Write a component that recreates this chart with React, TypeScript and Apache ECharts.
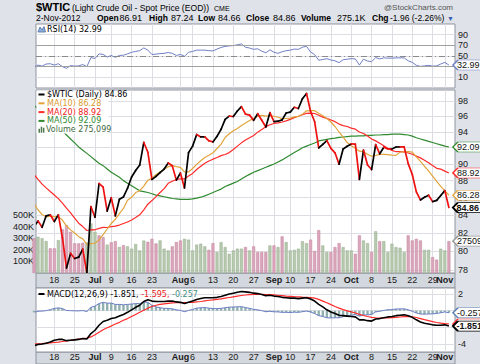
import React, { useEffect, useRef } from 'react';
import * as echarts from 'echarts';

const dates = [
  '06-11','06-12','06-13','06-14','06-15','06-18','06-19','06-20','06-21','06-22','06-25','06-26','06-27','06-28','06-29',
  '07-02','07-03','07-05','07-06','07-09','07-10','07-11','07-12','07-13','07-16','07-17','07-18','07-19','07-20','07-23','07-24','07-25','07-26','07-27','07-30','07-31',
  '08-01','08-02','08-03','08-06','08-07','08-08','08-09','08-10','08-13','08-14','08-15','08-16','08-17','08-20','08-21','08-22','08-23','08-24','08-27','08-28','08-29','08-30','08-31',
  '09-04','09-05','09-06','09-07','09-10','09-11','09-12','09-13','09-14','09-17','09-18','09-19','09-20','09-21','09-24','09-25','09-26','09-27','09-28',
  '10-01','10-02','10-03','10-04','10-05','10-08','10-09','10-10','10-11','10-12','10-15','10-16','10-17','10-18','10-19','10-22','10-23','10-24','10-25','10-26','10-29','10-30','10-31',
  '11-01','11-02',
];

const xTickDates = ['06-18','06-25','07-02','07-09','07-16','07-23','08-01','08-06','08-13','08-20','08-27','09-04','09-10','09-17','09-24','10-01','10-08','10-15','10-22','10-29','11-01'];
const xTickLabels = ['18','25','Jul','9','16','23','Aug','6','13','20','27','Sep','10','17','24','Oct','8','15','22','29','Nov'];

const close = [
  82.70, 83.32, 82.62, 83.91, 84.03, 83.27, 84.03, 81.45, 78.20, 79.76, 79.21, 79.36, 80.21, 77.69, 84.96,
  83.75, 87.66, 87.22, 84.45, 85.99, 83.91, 85.81, 86.08, 87.10, 88.43, 89.22, 89.87, 92.66, 91.44, 88.14, 88.50, 88.97, 89.39, 90.13, 89.78, 88.06,
  88.91, 87.13, 91.40, 92.20, 93.67, 93.35, 93.36, 92.87, 92.73, 93.43, 94.33, 95.60, 96.01, 95.97, 96.68, 97.26, 96.27, 96.15, 95.47, 96.33, 95.49, 94.62, 96.47,
  95.30, 95.36, 95.53, 96.42, 96.54, 97.17, 97.01, 98.31, 99.00, 96.62, 95.29, 91.98, 92.42, 92.89, 91.93, 91.37, 89.98, 91.85, 92.19,
  92.48, 92.44, 88.14, 91.71, 89.88, 89.33, 92.39, 91.25, 92.07, 91.86, 91.85, 92.09, 92.12, 92.10, 90.05, 88.73, 86.67, 85.73, 86.05, 86.28, 85.54, 85.68, 86.24,
  86.82, 84.86,
];

const ma10 = [
  85.33, 84.58, 84.06, 83.80, 83.88, 83.81, 83.78, 83.43, 82.76, 82.33, 81.98, 81.58, 81.34, 80.72, 80.81,
  80.86, 81.23, 81.80, 82.43, 83.05, 83.52, 84.17, 84.75, 85.69, 86.04, 86.59, 86.81, 87.35, 88.05, 88.27, 88.73, 89.04, 89.37, 89.68, 89.81, 89.69,
  89.60, 89.05, 89.04, 89.45, 89.96, 90.40, 90.80, 91.07, 91.37, 91.91, 92.45, 93.29, 93.76, 94.13, 94.43, 94.82, 95.12, 95.44, 95.72, 96.01, 96.12, 96.03, 96.07,
  96.00, 95.87, 95.70, 95.71, 95.75, 95.92, 95.99, 96.27, 96.71, 96.73, 96.73, 96.39, 96.08, 95.72, 95.26, 94.68, 93.98, 93.33, 92.65,
  92.24, 91.95, 91.57, 91.50, 91.20, 90.94, 91.04, 91.17, 91.19, 91.16, 91.09, 91.06, 91.46, 91.49, 91.51, 91.45, 90.88, 90.33, 89.73, 89.17, 88.54, 87.90, 87.31,
  86.78, 86.28,
];

const ma20 = [
  88.73, 88.15, 87.58, 87.14, 86.71, 86.30, 85.88, 85.37, 84.78, 84.24, 83.65, 83.08, 82.70, 82.26, 82.35,
  82.34, 82.50, 82.61, 82.60, 82.69, 82.75, 82.87, 83.05, 83.21, 83.43, 83.72, 84.02, 84.58, 85.24, 85.66, 86.12, 86.60, 87.06, 87.68, 87.93, 88.14,
  88.20, 88.20, 88.55, 88.86, 89.34, 89.72, 90.09, 90.37, 90.59, 90.80, 91.02, 91.17, 91.40, 91.79, 92.20, 92.61, 92.96, 93.26, 93.54, 93.96, 94.29, 94.66, 94.91,
  95.07, 95.15, 95.26, 95.41, 95.60, 95.82, 96.00, 96.20, 96.37, 96.40, 96.36, 96.13, 95.89, 95.72, 95.51, 95.30, 94.99, 94.80, 94.68,
  94.48, 94.34, 93.98, 93.79, 93.46, 93.10, 92.86, 92.57, 92.26, 91.90, 91.67, 91.51, 91.51, 91.50, 91.35, 91.19, 90.96, 90.75, 90.46, 90.16, 89.81, 89.48, 89.38,
  89.14, 88.92,
];

const ma50 = [
  97.4, 97.0, 96.5, 96.0, 95.5, 95.0, 94.6, 94.1, 93.6, 93.1, 92.6, 92.1, 91.7, 91.3, 90.9,
  90.5, 90.1, 89.8, 89.4, 89.0, 88.7, 88.4, 88.0, 87.7, 87.4, 87.1, 86.8, 86.7, 86.6, 86.45, 86.3, 86.2, 86.1, 86.0, 85.9, 85.85,
  85.8, 85.8, 85.8, 85.85, 85.95, 86.05, 86.2, 86.4, 86.6, 86.8, 87.0, 87.3, 87.5, 87.7, 87.9, 88.2, 88.5, 88.75, 89.0, 89.2, 89.4, 89.6, 89.8,
  90.0, 90.25, 90.5, 90.8, 91.1, 91.4, 91.7, 92.0, 92.2, 92.4, 92.6, 92.85, 92.95, 93.05, 93.15, 93.2, 93.3, 93.35, 93.4,
  93.45, 93.45, 93.5, 93.5, 93.55, 93.55, 93.6, 93.6, 93.65, 93.65, 93.7, 93.7, 93.7, 93.65, 93.6, 93.45, 93.25, 93.1, 92.95, 92.8, 92.65, 92.5, 92.35,
  92.2, 92.09,
];

// volume in thousands of shares
const volumeK = [
  300, 313, 300, 276, 213, 213, 284, 377, 414, 356, 256, 256, 261, 264, 428,
  356, 325, 310, 245, 265, 275, 225, 240, 230, 210, 250, 195, 280, 270, 295, 255, 281, 210, 195, 230, 267,
  281, 295, 288, 195, 245, 253, 230, 200, 258, 181, 267, 224, 166, 195, 210, 210, 224, 195, 230, 181, 181, 181, 238,
  238, 224, 316, 267, 195, 200, 210, 275, 258, 288, 190, 370, 238, 181, 181, 224, 258, 224, 195,
  195, 166, 325, 281, 258, 181, 360, 275, 275, 181, 253, 224, 218, 181, 325, 281, 295, 281, 200, 200, 137, 115, 210,
  195, 275.099,
];
const volUp = [
  0, 1, 1, 1, 0, 0, 1, 0, 0, 0, 0, 0, 0, 1, 1,
  1, 0, 0, 1, 0, 0, 1, 0, 1, 1, 1, 1, 1, 0, 0, 0, 1, 1, 1, 0, 0,
  0, 1, 1, 1, 1, 1, 1, 0, 0, 1, 1, 1, 1, 1, 1, 1, 0, 1, 0, 0, 0, 0, 1,
  0, 1, 0, 1, 1, 1, 1, 1, 1, 0, 0, 0, 1, 1, 0, 0, 0, 1, 1,
  1, 0, 0, 1, 1, 0, 1, 0, 1, 1, 1, 1, 1, 1, 0, 0, 0, 0, 1, 1, 0, 0, 1,
  1, 0,
];

const rsi = [
  29, 33, 31, 35, 35.5, 33, 35.5, 30, 27, 32, 31, 31.5, 34, 30, 47,
  45.5, 54, 53, 48, 51, 47.5, 51, 51.5, 54, 57, 58.5, 60, 65.2, 61, 52.8, 53.5, 54.5, 55, 56.5, 55, 51,
  53, 49.5, 57, 58.5, 61, 61, 61, 60, 59.5, 63, 66, 68, 69, 69.5, 71, 72.7, 66.4, 65, 62.5, 63.5, 59, 56, 61.5,
  57, 55, 58, 60, 61, 63, 62.5, 66.5, 68, 57.5, 52.5, 42, 43.5, 45, 42.5, 41, 37.5, 43, 44,
  45, 44.5, 33, 44, 40.5, 39.5, 47, 44.5, 46.5, 46, 46, 46.5, 46.5, 46.5, 41, 38, 32.5, 30.5, 31.5, 32.5, 31, 31.5, 35,
  38, 32.99,
];

const macd = [
  -4.2, -4.05, -4.0, -3.9, -3.75, -3.55, -3.45, -3.45, -3.6, -3.55, -3.5, -3.45, -3.35, -3.4, -2.75,
  -2.35, -1.75, -1.3, -1.15, -0.95, -0.85, -0.65, -0.45, -0.2, 0.1, 0.4, 0.65, 1.1, 1.3, 1.15, 1.1, 1.1, 1.1, 1.15, 1.15, 1.05,
  1.0, 0.85, 1.0, 1.15, 1.35, 1.45, 1.55, 1.55, 1.55, 1.6, 1.7, 1.85, 2.0, 2.1, 2.2, 2.3, 2.25, 2.2, 2.1, 2.05, 1.95, 1.8, 1.85,
  1.75, 1.7, 1.6, 1.55, 1.5, 1.5, 1.45, 1.5, 1.55, 1.4, 1.15, 0.75, 0.45, 0.1, -0.15, -0.35, -0.55, -0.6, -0.65,
  -0.7, -0.75, -1.1, -1.1, -1.2, -1.25, -1.0, -0.95, -0.85, -0.75, -0.7, -0.6, -0.55, -0.5, -0.6, -0.8, -1.1, -1.35, -1.5, -1.6, -1.7, -1.75, -1.75,
  -1.7, -1.851,
];
const signal = [
  -4.0, -3.98, -3.95, -3.9, -3.87, -3.82, -3.78, -3.7, -3.62, -3.55, -3.48, -3.42, -3.36, -3.3, -3.15,
  -2.9, -2.6, -2.3, -2.05, -1.85, -1.6, -1.4, -1.15, -0.95, -0.7, -0.45, -0.2, 0.05, 0.3, 0.5, 0.65, 0.75, 0.82, 0.88, 0.93, 0.95,
  0.97, 0.97, 0.98, 1.0, 1.05, 1.1, 1.18, 1.25, 1.3, 1.36, 1.42, 1.5, 1.58, 1.66, 1.74, 1.82, 1.88, 1.92, 1.94, 1.95, 1.95, 1.93, 1.92,
  1.89, 1.85, 1.8, 1.75, 1.72, 1.68, 1.65, 1.62, 1.6, 1.56, 1.5, 1.35, 1.15, 0.95, 0.72, 0.5, 0.3, 0.12, -0.02,
  -0.15, -0.28, -0.45, -0.58, -0.7, -0.8, -0.85, -0.88, -0.88, -0.86, -0.83, -0.8, -0.76, -0.72, -0.7, -0.73, -0.82, -0.95, -1.08, -1.2, -1.32, -1.42, -1.5,
  -1.55, -1.595,
];
const hist = [
  -0.2, -0.07, -0.05, 0, 0.12, 0.27, 0.33, 0.25, 0.02, 0, -0.02, -0.03, 0.01, -0.1, 0.4,
  0.55, 0.85, 1.0, 0.9, 0.9, 0.75, 0.75, 0.7, 0.75, 0.8, 0.85, 0.85, 1.05, 1.0, 0.65, 0.45, 0.35, 0.28, 0.27, 0.22, 0.1,
  0.03, -0.12, 0.02, 0.15, 0.3, 0.35, 0.37, 0.3, 0.25, 0.24, 0.28, 0.35, 0.42, 0.44, 0.46, 0.48, 0.37, 0.28, 0.16, 0.1, 0, -0.13, -0.07,
  -0.14, -0.15, -0.2, -0.2, -0.22, -0.18, -0.2, -0.12, -0.05, -0.16, -0.35, -0.6, -0.7, -0.85, -0.87, -0.85, -0.85, -0.72, -0.63,
  -0.55, -0.47, -0.65, -0.52, -0.5, -0.45, -0.15, -0.07, 0.03, 0.11, 0.13, 0.2, 0.21, 0.22, 0.1, -0.07, -0.28, -0.4, -0.42, -0.4, -0.38, -0.33, -0.25,
  -0.15, -0.257,
];

const priceTicks = [78, 80, 82, 84, 86, 88, 90, 92, 94, 96, 98];
const volTicksK = [100, 200, 300, 400, 500];
const rsiTicks = [10, 30, 50, 70, 90];
const rsiLabelTicks = [10, 50, 70, 90];
const macdTicks = [-4, -2, 0, 2];

const FONT = '"Liberation Sans", Arial, sans-serif';
const LFONT = '"DejaVu Sans", Verdana, sans-serif';
const GRIDC = '#dcdee3';
const BORDER = '#8f949e';
const C_MA10 = '#e2a43c';
const C_MA20 = '#ff2a2a';
const C_MA50 = '#2f8a2f';
const C_RSI = '#6f7fc6';

export default function App() {
  const ref = useRef<HTMLDivElement>(null);

  useEffect(() => {
    const chart = echarts.init(ref.current!, null, { renderer: 'svg' });
    const n = dates.length;
    const last = n - 1;
    const tickIdx = xTickDates.map((d) => dates.indexOf(d));
    const isMonth = (t: string) => /^[A-Z]/.test(t);
    const dayIdx = tickIdx.filter((_, k) => !isMonth(xTickLabels[k]));
    const monthIdx = tickIdx.filter((_, k) => isMonth(xTickLabels[k]));
    const idx = (arr: number[]) => arr.map((v, i) => [i, v]);
    const labelOf = (v: number) => {
      const k = tickIdx.indexOf(Math.round(v));
      return k < 0 ? '' : xTickLabels[k];
    };

    // kind: 'grid' = split lines only; 'day' = day labels + split lines; 'month' = bold month labels
    const xAxis = (grid: number, kind: 'grid' | 'day' | 'month', margin: number) => ({
      type: 'value',
      gridIndex: grid,
      position: 'bottom',
      offset: 0,
      min: 0.5,
      max: n + 0.5,
      axisLine: { show: false },
      axisTick: { show: false, customValues: kind === 'month' ? monthIdx : tickIdx },
      axisLabel: {
        show: kind !== 'grid',
        customValues: kind === 'month' ? monthIdx : dayIdx,
        showMinLabel: true,
        showMaxLabel: true,
        margin,
        fontSize: 9,
        fontFamily: FONT,
        fontWeight: kind === 'month' ? 'bold' : 'normal',
        color: '#1a1a1a',
        formatter: labelOf,
      },
      splitLine: { show: kind !== 'month', lineStyle: { color: GRIDC, width: 1 } },
    });

    const yLabel = (values: number[], fmt: (v: number) => string, margin = 3) => ({
      customValues: values,
      showMinLabel: true,
      showMaxLabel: true,
      margin,
      fontSize: 9,
      fontFamily: FONT,
      color: '#1a1a1a',
      formatter: fmt,
    });

    const TAGW = 36;
    const tag = (xi: number, yi: number, yv: number, text: string, border: string, z: number, bold = false) => ({
      type: 'scatter',
      xAxisIndex: xi,
      yAxisIndex: yi,
      clip: false,
      silent: true,
      z,
      data: [[last, yv]],
      symbol: 'path://M0,5L5,0L36,0L36,10L5,10Z',
      symbolSize: [TAGW, 10],
      symbolKeepAspect: false,
      symbolOffset: [TAGW / 2 + 4, 0],
      itemStyle: { color: '#ffffff', borderColor: border, borderWidth: bold ? 1.4 : 1, opacity: 1 },
      label: {
        show: true,
        position: [5, 0.5],
        formatter: text,
        fontSize: 9,
        lineHeight: 10,
        fontFamily: FONT,
        fontWeight: bold ? 'bold' : 'normal',
        color: '#111',
      },
      emphasis: { disabled: true },
    });

    const htxt = (left: number, top: number, text: string, o: any = {}) => ({
      type: 'text',
      left,
      top,
      z: 100,
      silent: true,
      style: {
        text,
        fill: o.fill ?? '#000',
        fontSize: o.size ?? 9,
        fontFamily: o.family ?? FONT,
        fontWeight: o.bold ? 'bold' : 'normal',
      },
    });
    const txt = (x: number, y: number, text: string, o: any = {}) => ({
      type: 'text',
      x,
      y,
      z: 100,
      silent: true,
      style: {
        text,
        fill: o.fill ?? '#000',
        fontSize: o.size ?? 9,
        fontFamily: o.family ?? FONT,
        fontWeight: o.bold ? 'bold' : 'normal',
        align: 'left',
        verticalAlign: 'middle',
        rich: o.rich,
      },
    });
    const dash = (y: number, color: string) => ({
      type: 'line',
      z: 100,
      silent: true,
      shape: { x1: 38.5, y1: y, x2: 44.5, y2: y },
      style: { stroke: color, lineWidth: 2 },
    });

    const lastClose = close[last];
    const legendRows = [94.5, 103.3, 112.1, 120.9, 129.7];
    const L2 = 13.5;

    const option: any = {
      animation: false,
      backgroundColor: 'transparent',
      grid: [
        { left: 36, width: 419, top: 24, height: 64, show: true, backgroundColor: '#ffffff', borderColor: BORDER, borderWidth: 1 },
        { left: 36, width: 419, top: 90, height: 183, show: true, backgroundColor: '#ffffff', borderColor: BORDER, borderWidth: 1 },
        { left: 36, width: 419, top: 288, height: 64, show: true, backgroundColor: '#ffffff', borderColor: BORDER, borderWidth: 1 },
      ],
      xAxis: [
        xAxis(0, 'grid', 0),
        xAxis(1, 'day', 2),
        xAxis(1, 'month', 2),
        xAxis(2, 'day', 0),
        xAxis(2, 'month', 0),
      ],
      yAxis: [
        {
          type: 'value', gridIndex: 0, position: 'right', min: -10, max: 110,
          axisLine: { show: false }, axisTick: { show: false, customValues: rsiTicks },
          axisLabel: yLabel(rsiLabelTicks, (v) => String(Math.round(v))),
          splitLine: { show: true, lineStyle: { color: GRIDC } },
        },
        {
          type: 'log', logBase: 10, gridIndex: 1, position: 'right', min: 77.67, max: 99.47,
          axisLine: { show: false }, axisTick: { show: false, customValues: priceTicks },
          axisLabel: yLabel(priceTicks, (v) => String(Math.round(v))),
          splitLine: { show: true, lineStyle: { color: GRIDC } },
        },
        {
          type: 'value', gridIndex: 1, position: 'left', min: 0, max: 1580,
          axisLine: { show: false }, axisTick: { show: false, customValues: volTicksK },
          axisLabel: yLabel(volTicksK, (v) => `${Math.round(v)}K`, 2),
          splitLine: { show: false },
        },
        {
          type: 'value', gridIndex: 2, position: 'right', min: -4.96, max: 2.72,
          axisLine: { show: false }, axisTick: { show: false, customValues: macdTicks },
          axisLabel: yLabel(macdTicks, (v) => String(Math.round(v))),
          splitLine: { show: true, lineStyle: { color: GRIDC } },
        },
      ],
      series: [
        // RSI panel
        {
          type: 'line', xAxisIndex: 0, yAxisIndex: 0, data: idx(rsi), showSymbol: false, z: 3,
          lineStyle: { color: C_RSI, width: 1 }, itemStyle: { color: C_RSI },
          markLine: {
            silent: true, symbol: 'none', label: { show: false },
            data: [
              { yAxis: 70, lineStyle: { color: '#a0a0a0', width: 1, type: 'solid' } },
              { yAxis: 30, lineStyle: { color: '#a0a0a0', width: 1, type: 'solid' } },
              { yAxis: 50, lineStyle: { color: '#8a8a8a', width: 1, type: [6, 3, 1, 3] } },
            ],
          },
        },
        tag(0, 0, rsi[last], rsi[last].toFixed(2), C_RSI, 20),

        // Main panel: volume
        {
          type: 'bar', xAxisIndex: 1, yAxisIndex: 2, barWidth: 3, z: 1,
          data: volumeK.map((v, i) => ({
            value: [i, v],
            itemStyle: volUp[i]
              ? { color: '#b7caaf', borderColor: '#97ad8f', borderWidth: 0.5 }
              : { color: '#dba6bb', borderColor: '#c0849c', borderWidth: 0.5 },
          })),
        },
        { type: 'line', xAxisIndex: 1, yAxisIndex: 1, data: idx(ma50), showSymbol: false, z: 3, lineStyle: { color: C_MA50, width: 1.2 }, itemStyle: { color: C_MA50 } },
        { type: 'line', xAxisIndex: 1, yAxisIndex: 1, data: idx(ma20), showSymbol: false, z: 3, lineStyle: { color: C_MA20, width: 1.2 }, itemStyle: { color: C_MA20 } },
        { type: 'line', xAxisIndex: 1, yAxisIndex: 1, data: idx(ma10), showSymbol: false, z: 3, lineStyle: { color: C_MA10, width: 1.2 }, itemStyle: { color: C_MA10 } },
        {
          type: 'custom', xAxisIndex: 1, yAxisIndex: 1, clip: true, z: 5,
          data: close.map((v, i) => [i, v, i > 0 ? close[i - 1] : v]),
          encode: { x: 0, y: 1 },
          renderItem: (params: any, api: any) => {
            const i = api.value(0);
            if (i === 0) return null;
            const cur = api.value(1);
            const prev = api.value(2);
            const p1 = api.coord([i - 1, prev]);
            const p2 = api.coord([i, cur]);
            return {
              type: 'line',
              shape: { x1: p1[0], y1: p1[1], x2: p2[0], y2: p2[1] },
              style: { stroke: cur >= prev ? '#000000' : '#ee1111', lineWidth: 1.7, lineCap: 'round' },
            };
          },
        },
        tag(1, 2, volumeK[last], String(Math.round(volumeK[last] * 1000)), '#9a9a9a', 20),
        tag(1, 1, ma50[last], ma50[last].toFixed(2), C_MA50, 21),
        tag(1, 1, ma20[last], ma20[last].toFixed(2), C_MA20, 22),
        tag(1, 1, ma10[last], ma10[last].toFixed(2), C_MA10, 23),
        tag(1, 1, lastClose, lastClose.toFixed(2), '#000000', 24, true),

        // MACD panel
        { type: 'bar', xAxisIndex: 3, yAxisIndex: 3, barWidth: 2.4, z: 1, data: idx(hist), itemStyle: { color: '#8fb0ae' } },
        { type: 'line', xAxisIndex: 3, yAxisIndex: 3, data: idx(hist), showSymbol: false, z: 2, lineStyle: { color: '#6a7cc4', width: 1 }, itemStyle: { color: '#6a7cc4' } },
        { type: 'line', xAxisIndex: 3, yAxisIndex: 3, data: idx(signal), showSymbol: false, z: 3, lineStyle: { color: '#ff2a2a', width: 1.2 }, itemStyle: { color: '#ff2a2a' } },
        { type: 'line', xAxisIndex: 3, yAxisIndex: 3, data: idx(macd), showSymbol: false, z: 4, lineStyle: { color: '#000', width: 1.6 }, itemStyle: { color: '#000' } },
        tag(3, 3, hist[last], hist[last].toFixed(3), '#5a7fb0', 20),
        tag(3, 3, signal[last], signal[last].toFixed(3), '#ff2a2a', 21),
        tag(3, 3, macd[last], macd[last].toFixed(3), '#000000', 22, true),
      ],
      graphic: [
        { type: 'rect', z: -1, silent: true, shape: { x: 36, y: 273, width: 419, height: 15 }, style: { fill: '#d3d7de', stroke: BORDER, lineWidth: 1 } },
        { type: 'rect', z: -1, silent: true, shape: { x: 36, y: 352, width: 419, height: 12 }, style: { fill: '#d3d7de', stroke: BORDER, lineWidth: 1 } },

        // Header
        htxt(36, 1.5, '$WTIC', { bold: true, size: 11 }),
        htxt(72, 3.5, '(Light Crude Oil - Spot Price (EOD))', { size: 8.6 }),
        htxt(214, 4.5, 'CME', { size: 7 }),
        { type: 'text', right: 27, top: 3, z: 100, silent: true, style: { text: '@StockCharts.com', fill: '#555', fontSize: 8, fontFamily: FONT } },
        htxt(36, L2, '2-Nov-2012', { size: 8.5 }),
        htxt(97, L2, 'Open', { bold: true, size: 8.5 }), htxt(119.5, L2, '86.91'),
        htxt(149, L2, 'High', { bold: true, size: 8.5 }), htxt(171, L2, '87.24'),
        htxt(198, L2, 'Low', { bold: true, size: 8.5 }), htxt(218, L2, '84.66'),
        htxt(246, L2, 'Close', { bold: true, size: 8.5 }), htxt(273, L2, lastClose.toFixed(2)),
        htxt(301, L2, 'Volume', { bold: true, size: 8.5 }), htxt(337, L2, '275.1K'),
        htxt(372, L2, 'Chg', { bold: true, size: 8.5 }), htxt(390, L2, '-1.96 (-2.26%)', { size: 8.5 }),
        htxt(447, L2 + 1.5, '\u25BC', { size: 7, fill: '#3a5fb0' }),

        // RSI legend
        { type: 'polygon', z: 100, silent: true, shape: { points: [[38, 32], [40, 27], [42, 30], [44, 26.5], [45.5, 32]] }, style: { fill: '#8fb0d8', stroke: '#4a6aa8', lineWidth: 0.8 } },
        txt(47, 29.5, `RSI(14) ${rsi[last].toFixed(2)}`, { family: LFONT, size: 8 }),

        // Main legend
        { type: 'rect', z: 90, silent: true, shape: { x: 36.5, y: 90.5, width: 72, height: 43 }, style: { fill: '#ffffff' } },
        dash(legendRows[0], '#000'), txt(47, legendRows[0], `$WTIC (Daily) ${lastClose.toFixed(2)}`, { family: LFONT, size: 8 }),
        dash(legendRows[1], C_MA10), txt(47, legendRows[1], `MA(10) ${ma10[last].toFixed(2)}`, { family: LFONT, size: 8, fill: '#d89a30' }),
        dash(legendRows[2], C_MA20), txt(47, legendRows[2], `MA(20) ${ma20[last].toFixed(2)}`, { family: LFONT, size: 8, fill: '#ee2020' }),
        dash(legendRows[3], C_MA50), txt(47, legendRows[3], `MA(50) ${ma50[last].toFixed(2)}`, { family: LFONT, size: 8, fill: C_MA50 }),
        { type: 'rect', z: 100, silent: true, shape: { x: 38.5, y: legendRows[4] - 1, width: 1.5, height: 4 }, style: { fill: '#4f7a4f' } },
        { type: 'rect', z: 100, silent: true, shape: { x: 40.7, y: legendRows[4] - 3, width: 1.5, height: 6 }, style: { fill: '#4f7a4f' } },
        { type: 'rect', z: 100, silent: true, shape: { x: 42.9, y: legendRows[4] - 2, width: 1.5, height: 5 }, style: { fill: '#4f7a4f' } },
        txt(46, legendRows[4], `Volume ${Math.round(volumeK[last] * 1000).toLocaleString('en-US')}`, { family: LFONT, size: 8, fill: '#3f6a3f' }),

        // MACD legend
        dash(294, '#000'),
        txt(47, 294, `{a|MACD(12,26,9) ${macd[last].toFixed(3)}, }{b|${signal[last].toFixed(3)}, }{c|${hist[last].toFixed(3)}}`, {
          family: LFONT, size: 8,
          rich: {
            a: { fill: '#000', fontFamily: LFONT, fontSize: 8 },
            b: { fill: '#ee2020', fontFamily: LFONT, fontSize: 8 },
            c: { fill: '#3f8f80', fontFamily: LFONT, fontSize: 8 },
          },
        }),
      ],
    };

    chart.setOption(option);
    return () => chart.dispose();
  }, []);

  return (
    <div
      ref={ref}
      style={{ position: 'fixed', left: 0, top: 0, width: 480, height: 364, background: '#dfe2e8' }}
    />
  );
}
